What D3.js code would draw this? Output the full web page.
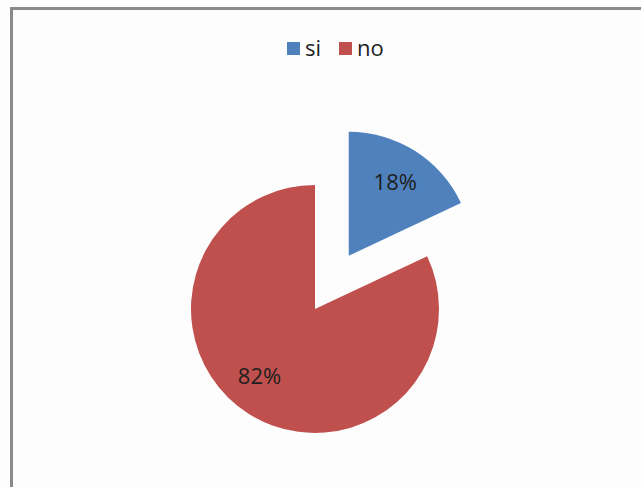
<!DOCTYPE html>
<html><head><meta charset="utf-8">
<script src="https://cdn.jsdelivr.net/npm/d3@7"></script>
<style>body{margin:0;background:#fff;}svg{display:block;}</style>
</head><body>
<script>
const categories = ["si", "no"];
const values = [18, 82];
const colors = ["#4f81bd", "#c0504d"];

const W = 641, H = 487;
const svg = d3.select("body").append("svg").attr("width", W).attr("height", H);
svg.append("rect").attr("width", W).attr("height", H).attr("fill", "#fdfdfd");
// frame (top and left visible)
svg.append("line").attr("x1", 11).attr("y1", 8.5).attr("x2", W).attr("y2", 8.5).attr("stroke", "#8a8a8a").attr("stroke-width", 3);
svg.append("line").attr("x1", 11.5).attr("y1", 7).attr("x2", 11.5).attr("y2", H).attr("stroke", "#8a8a8a").attr("stroke-width", 3);

const cx = 315, cy = 309, r = 124, explode = 63;
const pie = d3.pie().sort(null).value(d => d)(values);
const arc = d3.arc().innerRadius(0).outerRadius(r);
const labelArc = d3.arc().innerRadius(r * 0.7).outerRadius(r * 0.7);
const fmt = d3.format(".0%");
const total = d3.sum(values);
const labelShift = [[0, 0], [-9, -6]];

const g = svg.append("g").attr("transform", `translate(${cx},${cy})`);
const slices = g.selectAll("g.slice").data(pie).join("g").attr("class", "slice")
  .attr("transform", (d, i) => {
    if (i !== 0) return null;
    const a = (d.startAngle + d.endAngle) / 2;
    return `translate(${Math.sin(a) * explode},${-Math.cos(a) * explode})`;
  });
slices.append("path").attr("d", arc).attr("fill", (d, i) => colors[i]);
slices.append("text")
  .attr("transform", (d, i) => { const c = labelArc.centroid(d); return `translate(${c[0] + labelShift[i][0]},${c[1] + labelShift[i][1]})`; })
  .attr("text-anchor", "middle").attr("dy", "0.35em")
  .attr("font-family", "Open Sans, sans-serif").attr("font-size", 22).attr("fill", "#1e1e1e")
  .text(d => fmt(d.value / total));

// legend
const legend = svg.append("g").attr("font-family", "Open Sans, sans-serif").attr("font-size", 22).attr("fill", "#222");
const lx = [287, 339];
categories.forEach((c, i) => {
  legend.append("rect").attr("x", lx[i]).attr("y", 42).attr("width", 13).attr("height", 13).attr("fill", colors[i]);
  legend.append("text").attr("x", lx[i] + 18).attr("y", 56).text(c);
});
</script>
</body></html>
